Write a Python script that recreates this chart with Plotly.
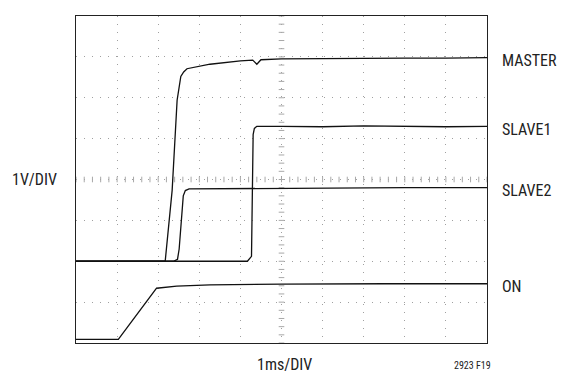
import numpy as np
import plotly.graph_objects as go

# Time axis in ms (1ms/DIV), voltage in divisions (1V/DIV)
master_x = [0, 2.17, 2.34, 2.46, 2.55, 2.62, 2.70, 3.26, 4.0, 4.3, 4.4, 4.5, 5.0, 6.0, 7.0, 8.0, 9.0, 10]
master_y = [2.0, 2.0, 3.74, 5.94, 6.52, 6.63, 6.71, 6.82, 6.90, 6.92, 6.82, 6.93, 6.95, 6.96, 6.96, 6.97, 6.97, 6.98]

slave1_x = [0, 4.17, 4.27, 4.31, 4.34, 4.40, 5, 6, 7, 8, 9, 10]
slave1_y = [2.0, 2.0, 2.12, 5.1, 5.25, 5.30, 5.30, 5.29, 5.31, 5.30, 5.29, 5.30]

slave2_x = [0, 2.37, 2.47, 2.51, 2.61, 2.66, 2.75, 4, 6, 8, 10]
slave2_y = [2.0, 2.0, 2.05, 2.3, 3.6, 3.73, 3.77, 3.78, 3.79, 3.80, 3.80]

on_x = [0, 1.03, 1.96, 2.45, 3.26, 5.0, 7.5, 10]
on_y = [0.09, 0.09, 1.34, 1.39, 1.42, 1.44, 1.45, 1.45]

trace_labels = ["MASTER", "SLAVE1", "SLAVE2", "ON"]
label_levels = [6.9, 5.22, 3.74, 1.39]

FONT = "Liberation Sans Narrow, Roboto Condensed, Arial Narrow, Liberation Sans, sans-serif"

fig = go.Figure()

# center graticule tick marks (decoration)
cx = np.arange(0, 10.01, 0.2)
cy = np.arange(0, 8.01, 0.2)
fig.add_trace(go.Scatter(x=[5] * len(cy), y=cy, mode="markers",
                         marker=dict(symbol="line-ew", size=4, line=dict(width=1, color="#a8a8a8")),
                         hoverinfo="skip", showlegend=False))
fig.add_trace(go.Scatter(x=cx, y=[4] * len(cx), mode="markers",
                         marker=dict(symbol="line-ns", size=4, line=dict(width=1, color="#a8a8a8")),
                         hoverinfo="skip", showlegend=False))

for xs, ys in [(master_x, master_y), (slave1_x, slave1_y), (slave2_x, slave2_y), (on_x, on_y)]:
    fig.add_trace(go.Scatter(x=xs, y=ys, mode="lines",
                             line=dict(color="#111111", width=1.3),
                             showlegend=False, hoverinfo="skip"))

for name, lv in zip(trace_labels, label_levels):
    fig.add_annotation(x=1.032, xref="paper", y=lv, yref="y", text=name,
                       showarrow=False, xanchor="left", yanchor="middle",
                       font=dict(family=FONT, size=16, color="#222222"))

fig.add_annotation(x=-0.10, xref="paper", y=4, yref="y", text="1V/DIV",
                   showarrow=False, xanchor="center", yanchor="middle",
                   font=dict(family=FONT, size=16, color="#222222"))
fig.add_annotation(x=0.508, xref="paper", y=-0.066, yref="paper", text="1ms/DIV",
                   showarrow=False, xanchor="center", yanchor="middle",
                   font=dict(family=FONT, size=16, color="#222222"))
fig.add_annotation(x=0.915, xref="paper", y=-0.07, yref="paper", text="2923 F19",
                   showarrow=False, xanchor="left", yanchor="middle",
                   font=dict(family=FONT, size=10, color="#222222"))

axis_common = dict(showticklabels=False, showgrid=True, gridcolor="#a0a0a0",
                   griddash="1px,7px", gridwidth=1, zeroline=False,
                   showline=True, linecolor="#222222", linewidth=1, mirror=True,
                   ticks="", fixedrange=True)

fig.update_xaxes(range=[0, 10], dtick=1, tick0=0, **axis_common)
fig.update_yaxes(range=[0, 8], dtick=1, tick0=0, **axis_common)

# page has an 8px body margin, so margins are offset by 8px
fig.update_layout(width=565, height=373,
                  margin=dict(l=68, r=86, t=8, b=38),
                  paper_bgcolor="white", plot_bgcolor="white",
                  showlegend=False)

fig.write_html("out.html")
